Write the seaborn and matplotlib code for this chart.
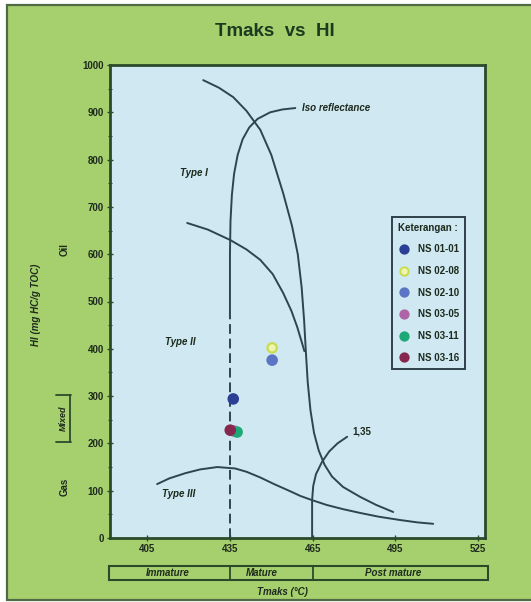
import numpy as np
import pandas as pd
import matplotlib
matplotlib.use("Agg")
import matplotlib.pyplot as plt
import matplotlib.transforms as mtransforms
from matplotlib.patches import Rectangle
from matplotlib.lines import Line2D
import seaborn as sns

# ---- sample data -------------------------------------------------------
samples = ["NS 01-01", "NS 02-08", "NS 02-10", "NS 03-05", "NS 03-11", "NS 03-16"]
tmaks = [436.2, 450.3, 450.3, 436.5, 437.6, 435.1]
hi = [294, 402, 376, 226, 224, 228]
sample_colors = ["#2b3f94", "#c9dc4a", "#5c74c4", "#b064a8", "#1fa877", "#86284e"]

# ---- kerogen type / maturity guide curves ------------------------------
type1_t = [425.3, 431.0, 436.2, 441.0, 446.0, 450.0, 454.3, 457.5, 459.6, 461.0,
           461.9, 462.5, 463.2, 464.2, 465.5, 467.2, 469.3, 472.0, 476.0, 482.2, 488.0, 494.2]
type1_hi = [968, 952, 932, 903, 863, 810, 729, 660, 600, 530,
            460, 397, 330, 270, 222, 185, 155, 130, 108, 87, 70, 55]

type2_t = [419.5, 427.0, 435.1, 441.0, 446.0, 450.5, 454.3, 457.3, 459.4, 461.0, 462.0]
type2_hi = [666, 652, 630, 610, 588, 558, 518, 480, 446, 415, 395]

type3_t = [408.6, 413.0, 418.8, 424.2, 430.4, 436.9, 441.0, 446.0, 451.0, 456.8,
           460.5, 464.8, 470.0, 476.0, 482.2, 489.0, 496.7, 503.0, 508.7]
type3_hi = [114, 126, 137, 145, 150, 147, 140, 128, 114, 99,
            89, 80, 70, 61, 53, 45, 38, 33, 30]

iso_t = [435.0, 435.0, 435.2, 435.7, 436.5, 437.8, 439.6, 442.0, 445.0, 449.6, 454.0, 458.7]
iso_hi = [467, 600, 670, 725, 770, 810, 843, 868, 886, 900, 906, 909]

iso_dash_t = [435.0, 435.0]
iso_dash_hi = [0, 467]

ro135_t = [464.8, 464.8, 465.2, 466.2, 468.4, 471.0, 474.0, 477.5]
ro135_hi = [0, 80, 110, 135, 161, 183, 200, 214]

x_ticks = [405, 435, 465, 495, 525]
y_ticks = list(range(0, 1001, 100))
zones = ["Immature", "Mature", "Post mature"]
zone_edges = [391.0, 435.0, 465.0, 528.5]
zone_centers = [412.3, 446.7, 494.2]

# ---- styling -----------------------------------------------------------
sns.set_theme(style="white")
plt.rcParams["font.family"] = ["Liberation Sans", "DejaVu Sans"]

BG_GREEN = "#a6d06e"
FACE_BLUE = "#cfe8f1"
DARK_GREEN = "#2c4a2a"
CURVE = "#2c4650"
TXT = "#1d2a1d"
FS = 7

fig = plt.figure(figsize=(5.31, 6.02), dpi=100)
fig.patch.set_facecolor("white")
fig.add_artist(Rectangle((7 / 531, 1 - 600 / 602), 1.05, 595 / 602,
                         transform=fig.transFigure, facecolor=BG_GREEN,
                         edgecolor="#4f6a45", lw=1.6, zorder=-10))

ax = fig.add_axes([110 / 531, 1 - 538 / 602, 375 / 531, 473 / 602])
ax.set_facecolor(FACE_BLUE)

def guide(t, h, **kw):
    df = pd.DataFrame({"t": t, "h": h})
    sns.lineplot(data=df, x="t", y="h", sort=False, estimator=None,
                 color=CURVE, lw=1.4, ax=ax, **kw)

guide(type1_t, type1_hi)
guide(type2_t, type2_hi)
guide(type3_t, type3_hi)
guide(iso_t, iso_hi)
guide(iso_dash_t, iso_dash_hi, linestyle=(0, (5, 2.5)))
guide(ro135_t, ro135_hi)

# sample points
pts = pd.DataFrame({"sample": samples, "t": tmaks, "hi": hi})
sns.scatterplot(data=pts, x="t", y="hi", hue="sample", hue_order=samples,
                palette=sample_colors, s=45, edgecolor=None, linewidth=0,
                legend=False, ax=ax, zorder=5)
coll = ax.collections[-1]
edges = [matplotlib.colors.to_rgba(c) for c in sample_colors]
faces = list(edges)
faces[1] = matplotlib.colors.to_rgba("#eef4b4")
coll.set_facecolors(faces)
coll.set_edgecolors(edges)
coll.set_linewidths(1.6)

ax.set_xlim(391.5, 527.5)
ax.set_ylim(0, 1000)
ax.set_xticks(x_ticks)
ax.set_yticks(y_ticks)
ax.set_yticks(range(50, 1000, 100), minor=True)
ax.set_xlabel("")
ax.set_ylabel("")
for lab in ax.get_xticklabels() + ax.get_yticklabels():
    lab.set_fontweight("bold")
    lab.set_fontsize(FS)
    lab.set_color(TXT)
ax.tick_params(axis="both", which="major", direction="inout", length=5,
               width=1, color=DARK_GREEN, pad=2, bottom=True, left=True)
ax.tick_params(axis="y", which="minor", direction="inout", length=3,
               width=0.8, color=DARK_GREEN, left=True)
for sp in ax.spines.values():
    sp.set_color(DARK_GREEN)
    sp.set_linewidth(2)

# curve annotations
lab_kw = dict(fontsize=FS, fontweight="bold", fontstyle="italic", color=TXT)
ax.text(417.0, 772, "Type I", va="center", ha="left", **lab_kw)
ax.text(411.5, 414, "Type II", va="center", ha="left", **lab_kw)
ax.text(410.4, 92, "Type III", va="center", ha="left", **lab_kw)
ax.text(461.3, 909, "Iso reflectance", va="center", ha="left", **lab_kw)
ax.text(479.3, 226, "1,35", va="center", ha="left", fontsize=FS,
        fontweight="bold", color=TXT)

# legend
handles = []
for name, col in zip(samples, sample_colors):
    fc = "#eef4b4" if name == "NS 02-08" else col
    handles.append(Line2D([], [], ls="", marker="o", markersize=6,
                          markerfacecolor=fc, markeredgecolor=col,
                          markeredgewidth=1.4, label=name))
leg = ax.legend(handles=handles, title="Keterangan :", loc="upper left",
                bbox_to_anchor=(0.739, 0.689), frameon=True, fancybox=False,
                fontsize=FS, title_fontsize=FS, labelspacing=1.2,
                handletextpad=0.9, handlelength=1.2, borderpad=0.6,
                alignment="left")
leg.get_frame().set_edgecolor("#2f4048")
leg.get_frame().set_linewidth(1.4)
leg.get_frame().set_facecolor(FACE_BLUE)
leg.get_frame().set_alpha(1)
leg.get_title().set_fontweight("bold")
leg.get_title().set_color(TXT)
for t in leg.get_texts():
    t.set_fontweight("bold")
    t.set_color(TXT)

# maturity bar beneath the axis
blend = mtransforms.blended_transform_factory(ax.transData, fig.transFigure)
y0, y1 = 1 - 580 / 602, 1 - 566 / 602
ax.add_patch(Rectangle((zone_edges[0], y0), zone_edges[-1] - zone_edges[0], y1 - y0,
                       transform=blend, fill=False, edgecolor=DARK_GREEN,
                       lw=1.5, clip_on=False))
for xe in zone_edges[1:-1]:
    ax.plot([xe, xe], [y0, y1], transform=blend, color=DARK_GREEN, lw=1.3,
            clip_on=False)
for name, xc in zip(zones, zone_centers):
    ax.text(xc, (y0 + y1) / 2, name, transform=blend, ha="center", va="center",
            fontsize=FS, fontweight="bold", fontstyle="italic", color=TXT)

# figure-level texts
fig.text(275 / 531, 1 - 32 / 602, "Tmaks  vs  HI", ha="center", va="center",
         fontsize=13.5, fontweight="bold", color="#1b3a1f")
fig.text(282 / 531, 1 - 592 / 602, "Tmaks (°C)", ha="center", va="center",
         fontsize=FS, fontweight="bold", fontstyle="italic", color=TXT)
fig.text(36 / 531, 1 - 305 / 602, "HI (mg HC/g TOC)", ha="center", va="center",
         rotation=90, fontsize=FS, fontweight="bold", fontstyle="italic", color=TXT)
fig.text(65 / 531, 1 - 250 / 602, "Oil", ha="center", va="center", rotation=90,
         fontsize=FS, fontweight="bold", color=TXT)
fig.text(63 / 531, 1 - 418 / 602, "Mixed", ha="center", va="center", rotation=90,
         fontsize=6.5, fontweight="bold", fontstyle="italic", color=TXT)
fig.text(65 / 531, 1 - 487 / 602, "Gas", ha="center", va="center", rotation=90,
         fontsize=FS, fontweight="bold", color=TXT)
# bracket around "Mixed"
bx = [56 / 531, 71 / 531]
yt, yb = 1 - 395 / 602, 1 - 442 / 602
for yy in (yt, yb):
    fig.add_artist(Line2D(bx, [yy, yy], transform=fig.transFigure,
                          color=DARK_GREEN, lw=1.3))
fig.add_artist(Line2D([70 / 531, 70 / 531], [yb, yt], transform=fig.transFigure,
                      color=DARK_GREEN, lw=1.3))

fig.savefig("out.png", dpi=100)
